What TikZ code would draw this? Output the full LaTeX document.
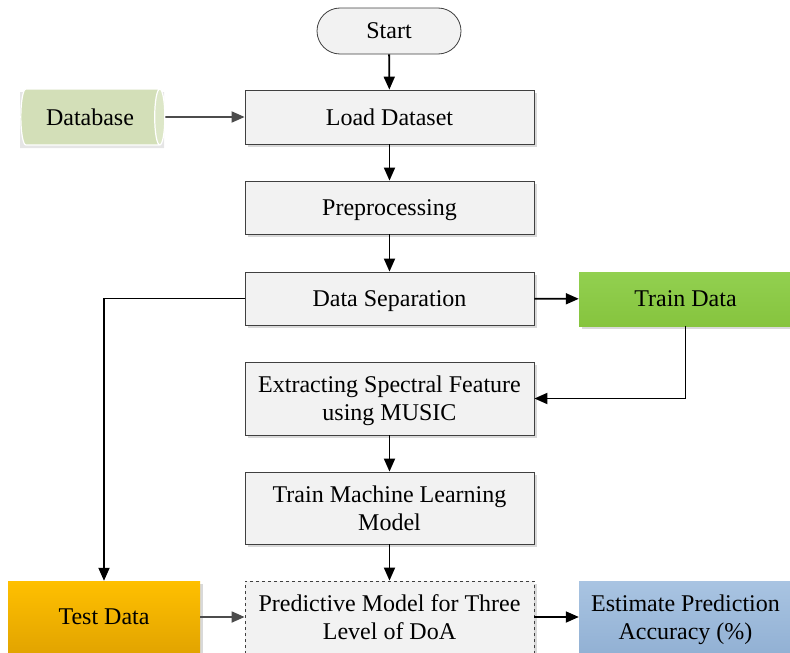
\documentclass[tikz,border=0pt]{standalone}
\usepackage{fontspec}
\setmainfont{Liberation Serif}
\usetikzlibrary{arrows.meta,shapes.geometric,shadows}
\definecolor{boxfill}{HTML}{F2F2F2}
\definecolor{boxline}{HTML}{404040}
\definecolor{dbbody}{HTML}{D3DFB8}
\definecolor{dbend}{HTML}{DDE7C8}
\definecolor{greentop}{HTML}{92D050}
\definecolor{greenbot}{HTML}{86C43E}
\definecolor{oratop}{HTML}{FFC000}
\definecolor{orabot}{HTML}{E2A400}
\definecolor{bluetop}{HTML}{A9C4E2}
\definecolor{bluebot}{HTML}{92B1D4}
\begin{document}
\begin{tikzpicture}[x=1pt,y=-1pt,
  font=\fontsize{24}{28}\selectfont,
  shade/.style={drop shadow={shadow xshift=3pt,shadow yshift=-3pt,fill=black!15,opacity=1}},
  procbox/.style={draw=boxline,line width=0.8pt,fill=boxfill,minimum width=289pt,align=center,inner sep=2pt,text depth=0pt,shade},
  colbox/.style={draw=none,minimum width=213pt,align=center,inner sep=2pt,text depth=0pt,shade},
  dbshape/.style={cylinder,shape aspect=0.6,minimum width=56pt,minimum height=144pt,inner sep=0pt},
  arr/.style={line width=1.8pt,-{Triangle[length=13pt,width=11pt]}},
  garr/.style={line width=1.8pt,draw=black!70,-{Triangle[length=13pt,width=11pt]}}]
\useasboundingbox (0,0) rectangle (790,653);
\node[draw=boxline,line width=0.8pt,fill=boxfill,rounded corners=23pt,minimum width=144pt,minimum height=46pt] (start) at (389,31) {Start};
\node[procbox,minimum height=54pt] (load) at (389.5,117) {Load Dataset};
\node[dbshape,fill=black!10,draw=none] (dbshadow) at (92,120) {};
\node[dbshape,draw=white,line width=1.2pt,cylinder uses custom fill,cylinder body fill=dbbody,cylinder end fill=dbend] (db) at (90,117) {Database};
\node[procbox,minimum height=53pt] (pre) at (389.5,207.5) {Preprocessing};
\node[procbox,minimum height=53pt] (sep) at (389.5,298.5) {Data Separation};
\node[colbox,top color=greentop,bottom color=greenbot,minimum height=54pt] (train) at (685.5,299) {Train Data};
\node[procbox,minimum height=73pt] (ext) at (389.5,398.5) {Extracting Spectral Feature\\using MUSIC};
\node[procbox,minimum height=72pt] (ml) at (389.5,508) {Train Machine Learning\\Model};
\node[procbox,dashed,minimum height=72pt] (pred) at (389.5,617) {Predictive Model for Three\\Level of DoA};
\node[colbox,minimum width=192pt,top color=oratop,bottom color=orabot,minimum height=72pt] (test) at (104,617) {Test Data};
\node[colbox,top color=bluetop,bottom color=bluebot,minimum height=72pt] (est) at (685.5,617) {Estimate Prediction\\Accuracy (\%)};
\draw[arr] (start) -- (load);
\draw[garr] (db.east) -- (load.west);
\draw[arr] (load) -- (pre);
\draw[arr] (pre) -- (sep);
\draw[arr] (sep) -- (train);
\draw[arr] (sep.west) -| (test.north);
\draw[arr] (train.south) |- (ext.east);
\draw[arr] (ext) -- (ml);
\draw[arr] (ml) -- (pred);
\draw[garr] (test.east) -- (pred.west);
\draw[arr] (pred.east) -- (est.west);
\end{tikzpicture}
\end{document}
